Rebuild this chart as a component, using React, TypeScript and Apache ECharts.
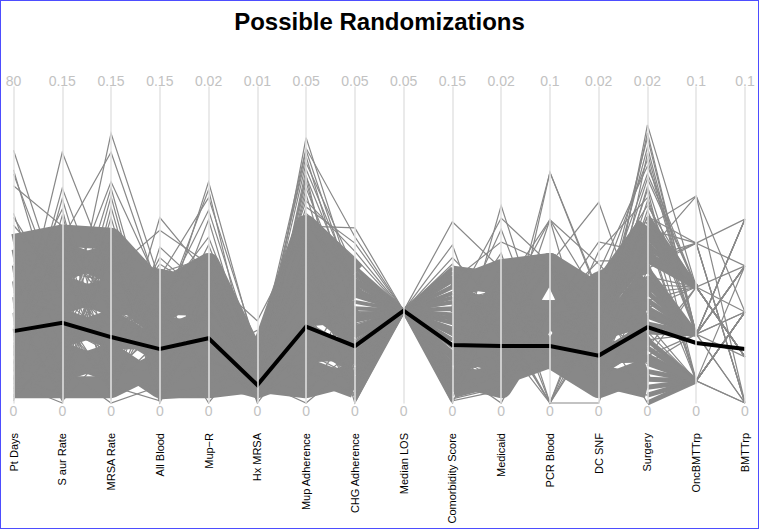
import React, { useEffect, useRef } from 'react';
import * as echarts from 'echarts';

const titleText = 'Possible Randomizations';
const axisNames = ['Pt Days', 'S aur Rate', 'MRSA Rate', 'All Blood', 'Mup\u2212R', 'Hx MRSA', 'Mup Adherence', 'CHG Adherence', 'Median LOS', 'Comorbidity Score', 'Medicaid', 'PCR Blood', 'DC SNF', 'Surgery', 'OncBMTTrp', 'BMTTrp'];
const axisMax = [80, 0.15, 0.15, 0.15, 0.02, 0.01, 0.05, 0.05, 0.05, 0.15, 0.02, 0.1, 0.02, 0.02, 0.1, 0.1];
const axisMaxLabels = ['80', '0.15', '0.15', '0.15', '0.02', '0.01', '0.05', '0.05', '0.05', '0.15', '0.02', '0.1', '0.02', '0.02', '0.1', '0.1'];

const medianLos = 0.0146;

// observed (black) line
const observed = [18.2, 0.0381, 0.0313, 0.0256, 0.0041, 0.00057, 0.0121, 0.009, 0.0146, 0.0275, 0.0036, 0.018, 0.003, 0.0048, 0.019, 0.0171];

// individual randomizations (thin gray lines), one array per axis
const thinPtDays = [64, 12, 3, 27, 38, 1.5, 19, 33, 8, 45, 22, 0.5, 41, 15, 30, 6, 59, 25, 36, 2, 17, 10, 48, 28, 4, 39, 21, 13, 35, 58, 7, 24, 1, 31, 16, 42, 9, 55, 26, 5, 37, 20, 47, 11, 32, 3.5, 23, 14];
const thinSAur = [0.05, 0.119, 0.02, 0.066, 0.008, 0.075, 0.04, 0.003, 0.097, 0.058, 0.028, 0.082, 0.012, 0.07, 0.045, 0.089, 0.033, 0.001, 0.062, 0.017, 0.078, 0.102, 0.024, 0.054, 0.006, 0.068, 0.037, 0.014, 0.08, 0.048, 0.004, 0.092, 0.03, 0.06, 0.022, 0.072, 0.01, 0.084, 0.043, 0.0, 0.064, 0.026, 0.052, 0.015, 0.074, 0.036, 0.002, 0.056];
const thinMrsa = [0.03, 0.06, 0.128, 0.01, 0.072, 0.045, 0.005, 0.093, 0.02, 0.066, 0.038, 0.002, 0.08, 0.052, 0.105, 0.015, 0.07, 0.026, 0.058, 0.0, 0.119, 0.041, 0.008, 0.076, 0.033, 0.062, 0.012, 0.098, 0.048, 0.022, 0.082, 0.004, 0.055, 0.035, 0.068, 0.018, 0.088, 0.043, 0.007, 0.074, 0.028, 0.102, 0.05, 0.014, 0.064, 0.024, 0.078, 0.04];
const thinAllBlood = [0.025, 0.04, 0.058, 0.088, 0.005, 0.032, 0.05, 0.012, 0.062, 0.02, 0.045, 0.074, 0.002, 0.036, 0.055, 0.016, 0.028, 0.069, 0.042, 0.008, 0.052, 0.03, 0.001, 0.06, 0.022, 0.082, 0.038, 0.014, 0.048, 0.004, 0.034, 0.057, 0.018, 0.066, 0.026, 0.044, 0.01, 0.054, 0.03, 0.0, 0.05, 0.02, 0.063, 0.035, 0.006, 0.046, 0.024, 0.04];
const thinMupR = [0.006, 0.0135, 0.004, 0.008, 0.001, 0.014, 0.005, 0.0025, 0.0092, 0.003, 0.0122, 0.007, 0.0005, 0.0045, 0.0085, 0.002, 0.0116, 0.0065, 0.0035, 0.009, 0.0015, 0.0055, 0.0075, 0.013, 0.004, 0.0088, 0.0, 0.006, 0.0105, 0.003, 0.0078, 0.0012, 0.005, 0.0068, 0.0028, 0.0094, 0.0042, 0.0018, 0.01, 0.0062, 0.0008, 0.0072, 0.0032, 0.0052, 0.0082, 0.0022, 0.0058, 0.0038];
const thinHxMrsa = [0.0008, 0.0003, 0.0012, 0.0026, 0.0005, 0.0015, 0.0001, 0.001, 0.0007, 0.0023, 0.0013, 0.0004, 0.0009, 0.0016, 0.0002, 0.0011, 0.0006, 0.002, 0.0014, 0.0, 0.0008, 0.0012, 0.0005, 0.0017, 0.0003, 0.001, 0.0019, 0.0007, 0.0013, 0.0002, 0.0009, 0.0015, 0.0004, 0.0011, 0.0006, 0.0014, 0.0001, 0.0008, 0.0012, 0.0005, 0.0016, 0.0003, 0.001, 0.0007, 0.0013, 0.0004, 0.0011, 0.0006];
const thinMupAdh = [0.02, 0.042, 0.008, 0.028, 0.035, 0.004, 0.015, 0.038, 0.024, 0.001, 0.031, 0.012, 0.04, 0.018, 0.026, 0.006, 0.034, 0.022, 0.0403, 0.01, 0.029, 0.016, 0.036, 0.003, 0.025, 0.013, 0.032, 0.0, 0.019, 0.037, 0.007, 0.027, 0.014, 0.033, 0.021, 0.005, 0.03, 0.011, 0.023, 0.0358, 0.017, 0.009, 0.028, 0.002, 0.039, 0.022, 0.012, 0.026];
const thinChg = [0.012, 0.018, 0.004, 0.0277, 0.009, 0.015, 0.001, 0.021, 0.007, 0.013, 0.0253, 0.003, 0.017, 0.01, 0.006, 0.02, 0.0145, 0.002, 0.0263, 0.008, 0.016, 0.011, 0.005, 0.019, 0.0, 0.014, 0.024, 0.0065, 0.012, 0.0185, 0.003, 0.0105, 0.0215, 0.0075, 0.015, 0.0015, 0.023, 0.0095, 0.0045, 0.017, 0.0125, 0.0055, 0.02, 0.0085, 0.0135, 0.0025, 0.0175, 0.011];
const thinComorb = [0.03, 0.012, 0.05, 0.002, 0.086, 0.04, 0.022, 0.058, 0.008, 0.035, 0.064, 0.016, 0.045, 0.026, 0.005, 0.075, 0.038, 0.018, 0.055, 0.0, 0.032, 0.06, 0.01, 0.042, 0.069, 0.02, 0.048, 0.004, 0.036, 0.028, 0.062, 0.014, 0.052, 0.024, 0.007, 0.044, 0.066, 0.019, 0.034, 0.056, 0.001, 0.04, 0.027, 0.011, 0.053, 0.033, 0.015, 0.047];
const thinMedicaid = [0.004, 0.0125, 0.006, 0.001, 0.0085, 0.003, 0.0055, 0.0102, 0.002, 0.007, 0.0045, 0.0, 0.0117, 0.005, 0.0075, 0.0015, 0.0035, 0.0088, 0.0025, 0.0065, 0.011, 0.004, 0.008, 0.0005, 0.006, 0.003, 0.0072, 0.0018, 0.0095, 0.005, 0.0028, 0.0082, 0.0042, 0.0012, 0.0068, 0.0058, 0.0022, 0.0078, 0.0038, 0.0062, 0.0008, 0.0048, 0.0085, 0.0032, 0.0052, 0.0015, 0.007, 0.0044];
const thinPcr = [0.029, 0.0146, 0.044, 0.073, 0.0146, 0.029, 0, 0.044, 0.029, 0.058, 0.0146, 0.029, 0.044, 0, 0.0146, 0.029, 0.044, 0.0146, 0.058, 0.029, 0.0146, 0, 0.044, 0.029, 0.0146, 0.029, 0.044, 0.0146, 0, 0.029, 0.073, 0.0146, 0.044, 0.029, 0.0146, 0.058, 0.029, 0, 0.044, 0.0146, 0.029, 0.0146, 0.044, 0.029, 0, 0.0146, 0.029, 0.044];
const thinDcSnf = [0.005, 0.002, 0.0127, 0.007, 0.0035, 0.0008, 0.006, 0.0045, 0.0102, 0.001, 0.0075, 0.003, 0.0055, 0.0, 0.0083, 0.004, 0.0015, 0.0096, 0.0065, 0.0025, 0.005, 0.0072, 0.0012, 0.009, 0.0038, 0.0058, 0.0022, 0.0078, 0.0048, 0.0005, 0.0068, 0.0032, 0.0062, 0.0018, 0.0042, 0.0088, 0.0028, 0.0052, 0.0011, 0.007, 0.0036, 0.006, 0.0016, 0.0046, 0.008, 0.0026, 0.0056, 0.0034];
const thinSurgery = [0.008, 0.0176, 0.004, 0.011, 0.0137, 0.002, 0.0065, 0.0162, 0.0095, 0.0005, 0.0125, 0.0171, 0.005, 0.0085, 0.015, 0.003, 0.0105, 0.013, 0.0075, 0.0015, 0.0118, 0.0154, 0.006, 0.009, 0.0025, 0.0145, 0.0112, 0.0045, 0.0168, 0.007, 0.001, 0.0122, 0.0088, 0.0035, 0.0135, 0.0055, 0.0102, 0.0, 0.0158, 0.008, 0.0118, 0.004, 0.0092, 0.0142, 0.006, 0.0108, 0.0028, 0.0128];
const thinOnc = [0.0218, 0.0367, 0.007, 0.0506, 0.0218, 0.007, 0.0367, 0.0218, 0.0655, 0.007, 0.0367, 0.0218, 0.007, 0.0506, 0.0367, 0.0218, 0.007, 0.0218, 0.0367, 0.007, 0.0506, 0.0218, 0.0367, 0.007, 0.0218, 0.0367, 0.0655, 0.007, 0.0218, 0.0367, 0.007, 0.0218, 0.0506, 0.0367, 0.007, 0.0218, 0.0367, 0.007, 0.0218, 0.0367, 0.007, 0.0218, 0.0506, 0.0367, 0.0218, 0.007, 0.0367, 0.0218];
const thinBmt = [0.0288, 0.0146, 0.0434, 0, 0.0582, 0.0288, 0.0146, 0.0434, 0.0288, 0, 0.0146, 0.0582, 0.0288, 0.0434, 0.0146, 0, 0.0288, 0.0434, 0.0146, 0.0288, 0, 0.0582, 0.0146, 0.0288, 0.0434, 0.0146, 0, 0.0288, 0.0434, 0.0146, 0.0288, 0.0582, 0, 0.0146, 0.0288, 0.0434, 0.0146, 0.0288, 0, 0.0434, 0.0288, 0.0146, 0.0582, 0.0288, 0.0434, 0, 0.0146, 0.0288];

// dense bulk of randomizations, left block (Pt Days .. CHG Adherence), drawn as broad bands
const bulkPtDays = [4, 8, 12, 16, 20, 24, 28, 32, 36, 40];
const bulkSAur = [0.0075, 0.0155, 0.0235, 0.0315, 0.0395, 0.0475, 0.0555, 0.0635, 0.0715, 0.0795];
const bulkMrsa = [0.0075, 0.0231, 0.0153, 0.0389, 0.031, 0.0545, 0.0467, 0.0702, 0.0624, 0.078];
const bulkAllBlood = [0.0189, 0.0075, 0.0132, 0.0245, 0.0302, 0.0359, 0.0471, 0.0416, 0.0585, 0.0528];
const bulkMupR = [0.00186, 0.001, 0.0036, 0.00274, 0.00534, 0.00446, 0.0062, 0.00794, 0.00706, 0.0088];
const bulkHxMrsa = [0.0005, 0.00068, 0.00059, 0.00086, 0.00077, 0.00103, 0.00094, 0.00112, 0.0013, 0.00121];
const bulkMupAdh = [0.00535, 0.0025, 0.00815, 0.011, 0.01665, 0.01385, 0.02235, 0.0195, 0.02515, 0.028];
const bulkChg = [0.0025, 0.0045, 0.0085, 0.0065, 0.0105, 0.0145, 0.0125, 0.0185, 0.0165, 0.0205];
// dense bulk, right block (Comorbidity Score .. Surgery)
const bulkComorb = [0.01335, 0.0075, 0.0192, 0.02505, 0.0309, 0.04245, 0.0366, 0.0483, 0.06, 0.05415];
const bulkMedicaid = [0.001, 0.00182, 0.00346, 0.00264, 0.00428, 0.00512, 0.00676, 0.00594, 0.00758, 0.0084];
const bulkPcr = [0.029, 0.0146, 0.044, 0.0146, 0.029, 0.0146, 0.044, 0.029, 0.0146, 0.044];
const bulkDcSnf = [0.00174, 0.001, 0.00246, 0.0032, 0.00466, 0.00394, 0.0054, 0.00614, 0.0076, 0.00686];
const bulkSurgery = [0.001, 0.00214, 0.0044, 0.00326, 0.00554, 0.0078, 0.00666, 0.01006, 0.00894, 0.0112];
// lines fanning into / out of the common Median LOS value
const wedgeChg = [0.001, 0.012, 0.019, 0.005, 0.016, 0.009, 0.0215, 0.003, 0.014, 0.007, 0.018, 0.0105, 0.0005, 0.0135, 0.0205, 0.006, 0.0115, 0.017, 0.002, 0.0095, 0.015, 0.0045, 0.0195, 0.008, 0.013, 0.0015, 0.0175, 0.0065, 0.011, 0.0035];
const wedgeComorb = [0.03, 0.005, 0.055, 0.018, 0.042, 0.001, 0.062, 0.024, 0.011, 0.048, 0.035, 0.008, 0.058, 0.021, 0.045, 0.003, 0.038, 0.014, 0.052, 0.027, 0.0065, 0.06, 0.033, 0.016, 0.05, 0.0095, 0.04, 0.0225, 0.064, 0.013];
// lines converging from Surgery onto the few OncBMTTrp values
const fanSurgery = [0.0005, 0.006, 0.011, 0.003, 0.0085, 0.0015, 0.0095, 0.0045, 0.0115, 0.002, 0.007, 0.01, 0.004, 0.0075, 0.001, 0.009, 0.0055, 0.0105, 0.0025, 0.008, 0.005, 0.0118, 0.0035, 0.0065, 0.0, 0.0092, 0.0058, 0.0108, 0.0028, 0.0078];
const fanOnc = [0.007, 0.0218, 0.0367, 0.007, 0.0218, 0.007, 0.0367, 0.0218, 0.0367, 0.007, 0.0218, 0.0367, 0.007, 0.0218, 0.007, 0.0367, 0.0218, 0.0367, 0.007, 0.0218, 0.0218, 0.0367, 0.007, 0.0218, 0.007, 0.0367, 0.0218, 0.0367, 0.007, 0.0218];

const GRAY = '#888888';
const FONT = "'Liberation Sans', Arial, sans-serif";

export default function App() {
  const ref = useRef<HTMLDivElement>(null);
  useEffect(() => {
    if (!ref.current) return;
    const chart = echarts.init(ref.current, null, { renderer: 'svg' });

    const thinCols: (number[] | null)[] = [thinPtDays, thinSAur, thinMrsa, thinAllBlood, thinMupR, thinHxMrsa, thinMupAdh, thinChg, null, thinComorb, thinMedicaid, thinPcr, thinDcSnf, thinSurgery, thinOnc, thinBmt];
    const thinRows = thinPtDays.map((_, i) => thinCols.map((c) => (c ? c[i] : medianLos)));
    const leftCols = [bulkPtDays, bulkSAur, bulkMrsa, bulkAllBlood, bulkMupR, bulkHxMrsa, bulkMupAdh, bulkChg];
    const leftRows = bulkPtDays.map((_, i) => leftCols.map((c) => c[i]));
    const rightCols = [bulkComorb, bulkMedicaid, bulkPcr, bulkDcSnf, bulkSurgery];
    const rightRows = bulkComorb.map((_, i) => rightCols.map((c) => c[i]));
    const wedgeRows = wedgeChg.map((v, i) => [v, medianLos, wedgeComorb[i]]);
    const fanRows = fanSurgery.map((v, i) => [v, fanOnc[i]]);

    const top = 87;
    const height = 316;
    const left = 13.5;
    const fullWidth = 731.5;
    const n = axisNames.length;
    const step = fullWidth / (n - 1);

    const mainAxes = axisNames.map((name, i) => ({
      dim: i,
      parallelIndex: 0,
      name,
      type: 'value',
      min: 0,
      max: axisMax[i],
      interval: axisMax[i],
      nameLocation: 'start',
      nameGap: 30,
      nameRotate: 90,
      nameTextStyle: { color: '#000', fontSize: 11, fontFamily: FONT, align: 'right', verticalAlign: 'middle' },
      axisLine: { show: true, lineStyle: { color: '#e3e3e3', width: 1.5 } },
      axisTick: { show: false },
      splitLine: { show: false },
      axisLabel: {
        show: true,
        margin: 0,
        align: 'center',
        verticalAlign: 'middle',
        formatter: (v: number) => (v === 0 ? '{b|0}' : `{t|${axisMaxLabels[i]}}`),
        rich: {
          t: { color: '#c2c2c2', fontSize: 14, fontFamily: FONT, padding: [0, 0, 12, 0] },
          b: { color: '#c2c2c2', fontSize: 14, fontFamily: FONT, padding: [16, 0, 0, 0] },
        },
      },
    }));
    const hiddenAxes = (parallelIndex: number, from: number, to: number) =>
      axisNames.slice(from, to + 1).map((_, k) => ({
        dim: k,
        parallelIndex,
        type: 'value',
        min: 0,
        max: axisMax[from + k],
        interval: axisMax[from + k],
        name: '',
        silent: true,
        axisLine: { show: false, lineStyle: { color: 'rgba(0,0,0,0)' } },
        axisTick: { show: false },
        axisLabel: { show: false, formatter: () => '', color: 'rgba(0,0,0,0)', fontSize: 1 },
        splitLine: { show: false },
      }));
    const box = (from: number, to: number) => ({ left: left + from * step, top, width: (to - from) * step, height, layout: 'horizontal' });

    const bandStyle = (width: number) => ({ color: GRAY, width, opacity: 1, join: 'round' });
    const common = { type: 'parallel', silent: true, emphasis: { disabled: true }, inactiveOpacity: 1, activeOpacity: 1 };

    chart.setOption({
      animation: false,
      backgroundColor: '#ffffff',
      textStyle: { fontFamily: FONT },
      title: {
        text: titleText,
        left: 'center',
        top: 4,
        textStyle: { fontSize: 24, fontWeight: 'bold', color: '#000', fontFamily: FONT },
      },
      parallel: [box(0, n - 1), box(0, 7), box(9, 13), box(7, 9), box(13, 14)],
      parallelAxis: [...mainAxes, ...hiddenAxes(1, 0, 7), ...hiddenAxes(2, 9, 13), ...hiddenAxes(3, 7, 9), ...hiddenAxes(4, 13, 14)],
      series: [
        { ...common, parallelIndex: 1, lineStyle: bandStyle(22), data: leftRows },
        { ...common, parallelIndex: 2, lineStyle: bandStyle(22), data: rightRows },
        { ...common, parallelIndex: 3, lineStyle: bandStyle(4), data: wedgeRows },
        { ...common, parallelIndex: 4, lineStyle: bandStyle(5), data: fanRows },
        { ...common, parallelIndex: 0, lineStyle: { color: GRAY, width: 1.2, opacity: 1 }, data: thinRows },
        { ...common, parallelIndex: 0, lineStyle: { color: '#000000', width: 4, opacity: 1 }, data: [observed] },
      ],
    });
    return () => chart.dispose();
  }, []);

  return (
    <div style={{ position: 'fixed', left: 0, top: 0, width: 759, height: 529, background: '#fff' }}>
      <div ref={ref} style={{ position: 'absolute', left: 0, top: 0, width: 759, height: 529 }} />
      <div
        style={{
          position: 'absolute',
          left: 0,
          top: 0,
          width: 759,
          height: 529,
          boxSizing: 'border-box',
          border: '1px solid #4d4dff',
          pointerEvents: 'none',
        }}
      />
    </div>
  );
}
